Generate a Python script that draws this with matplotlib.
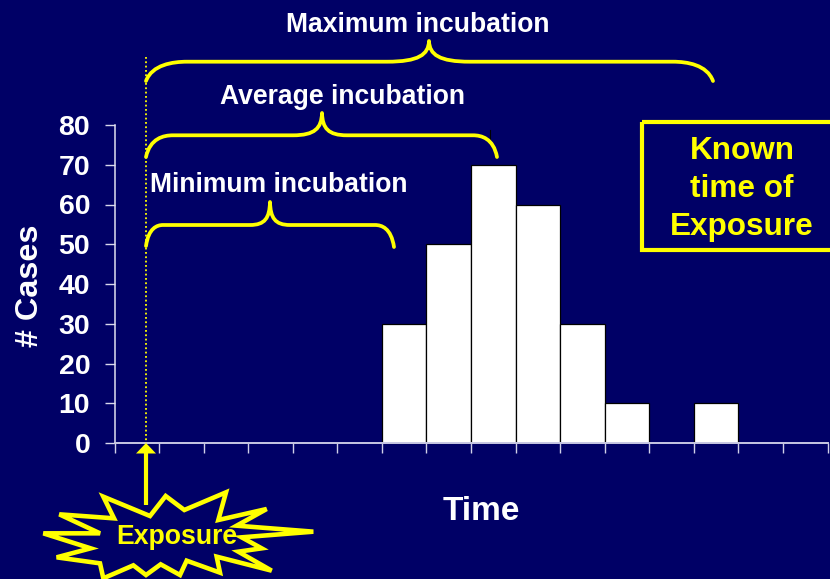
import matplotlib
matplotlib.use("Agg")
import matplotlib.pyplot as plt
from matplotlib.path import Path
from matplotlib.patches import PathPatch, Rectangle, Polygon

# Data
bins = list(range(16))
counts = [0, 0, 0, 0, 0, 0, 30, 50, 70, 60, 30, 10, 0, 10, 0, 0]
y_ticks = [0, 10, 20, 30, 40, 50, 60, 70, 80]
y_label = "# Cases"
x_label = "Time"
brace_labels = ["Maximum incubation", "Average incubation", "Minimum incubation"]
box_text = "Known\ntime of\nExposure"
burst_text = "Exposure"

BG = "#000066"
YEL = "#FFFF00"
W, H = 830, 579
plt.rcParams["font.family"] = ["Liberation Sans", "DejaVu Sans"]
plt.rcParams["font.weight"] = "bold"

fig = plt.figure(figsize=(W / 100, H / 100), dpi=100, facecolor=BG)

# chart axes
L, R, T, B = 114.5, 827.5, 125, 443
ax = fig.add_axes([L / W, 1 - B / H, (R - L) / W, (B - T) / H], facecolor="none")
ax.bar(bins, counts, width=1, align="edge", color="white", edgecolor="black", linewidth=0.9, zorder=2)
ax.set_xlim(0, 16)
ax.set_ylim(0, 80)
ax.set_xticks(range(17))
ax.set_xticklabels([])
ax.set_yticks(y_ticks)
ax.set_yticklabels([str(v) for v in y_ticks], fontsize=20.5, fontweight="bold", color="white")
ax.tick_params(axis="y", length=7, width=1.0, color="#D8D8EC", pad=10.5)
ax.tick_params(axis="x", length=7, width=1.0, color="#D0D0E8")
for s in ("top", "right"):
    ax.spines[s].set_visible(False)
ax.spines["left"].set_color("#E0E0F0")
ax.spines["bottom"].set_color("#C8C8E4")
ax.spines["left"].set_linewidth(1.1)
ax.spines["bottom"].set_linewidth(1.4)
for s in ax.spines.values():
    s.set_zorder(3)

# overlay in pixel coordinates for annotation shapes
ov = fig.add_axes([0, 0, 1, 1], facecolor="none")
ov.set_xlim(0, W)
ov.set_ylim(H, 0)
ov.axis("off")

def brace(x0, y0, xa, y, xb, xp, yp, xc, xd, x1, y1):
    verts = [(x0, y0), (x0 + (xa - x0) * 0.15, y + 3), (xa - (xa - x0) * 0.35, y), (xa, y),
             (xb, y),
             (xb + (xp - xb) * 0.75, y), (xp - 0.5, y - 7), (xp, yp),
             (xp + 0.5, y - 7), (xc - (xc - xp) * 0.75, y), (xc, y),
             (xd, y),
             (xd + (x1 - xd) * 0.35, y), (x1 - (x1 - xd) * 0.15, y + 3), (x1, y1)]
    codes = [Path.MOVETO, Path.CURVE4, Path.CURVE4, Path.CURVE4, Path.LINETO,
             Path.CURVE4, Path.CURVE4, Path.CURVE4, Path.CURVE4, Path.CURVE4, Path.CURVE4,
             Path.LINETO, Path.CURVE4, Path.CURVE4, Path.CURVE4]
    ov.add_patch(PathPatch(Path(verts, codes), fill=False, edgecolor=YEL, linewidth=2.7,
                           capstyle="round", joinstyle="round", zorder=5))

brace(146, 81, 187, 61.7, 387, 429, 41, 470, 673, 713, 81)
brace(146, 157, 173, 135.3, 293, 322, 113, 347, 473, 497, 157)
brace(146, 246, 163, 225, 250, 270, 202, 290, 375, 394, 247)

# exposure dotted line
ov.plot([146, 146], [57, 443], color=YEL, linewidth=1.3, linestyle=(0, (1, 1.4)), zorder=4)
# small stray tick above the tallest bar
ov.plot([490, 490], [130, 140], color="black", linewidth=0.8, zorder=4)

# arrow
ov.plot([146, 146], [505, 450], color=YEL, linewidth=3, solid_capstyle="butt", zorder=5)
ov.add_patch(Polygon([(146, 443), (136, 453.5), (156, 453.5)], closed=True, facecolor=YEL, edgecolor="none", zorder=5))

# text labels
txt = dict(color="white", fontweight="bold", ha="center", va="center", zorder=6)
ov.text(418, 25, brace_labels[0], fontsize=19.1, **txt)
ov.text(342.5, 96.5, brace_labels[1], fontsize=19.1, **txt)
ov.text(278.5, 185, brace_labels[2], fontsize=19.1, **txt)
ov.text(30.5, 286, y_label, rotation=90, fontsize=23.3, **txt)
ov.text(481, 511, x_label, fontsize=24, **txt)

# box
ov.add_patch(Rectangle((642, 122), 250, 128, fill=False, edgecolor=YEL, linewidth=3, zorder=5, clip_on=True))
ov.text(742, 189, box_text, color=YEL, fontsize=22.7, fontweight="bold", ha="center", va="center",
        linespacing=1.35, zorder=6)

# burst
zx = [310, 450, 497, 553, 678, 655, 800, 710, 940, 725, 785, 715, 815, 650, 660, 560, 540, 482, 438, 400, 310, 300, 170, 272, 130, 300, 178, 342]
zy = [230, 288, 228, 270, 217, 300, 267, 317, 335, 352, 385, 395, 452, 410, 458, 422, 465, 433, 465, 436, 475, 430, 412, 385, 340, 340, 283, 295]
burst = [(a / 3, 420 + b / 3) for a, b in zip(zx, zy)]
ov.add_patch(Polygon(burst, closed=True, facecolor=BG, edgecolor=YEL, linewidth=3.3, joinstyle="miter", zorder=5))
ov.text(177, 536.5, burst_text, color=YEL, fontsize=19.2, fontweight="bold", ha="center", va="center", zorder=6)

fig.savefig("out.png", dpi=100, facecolor=BG)
